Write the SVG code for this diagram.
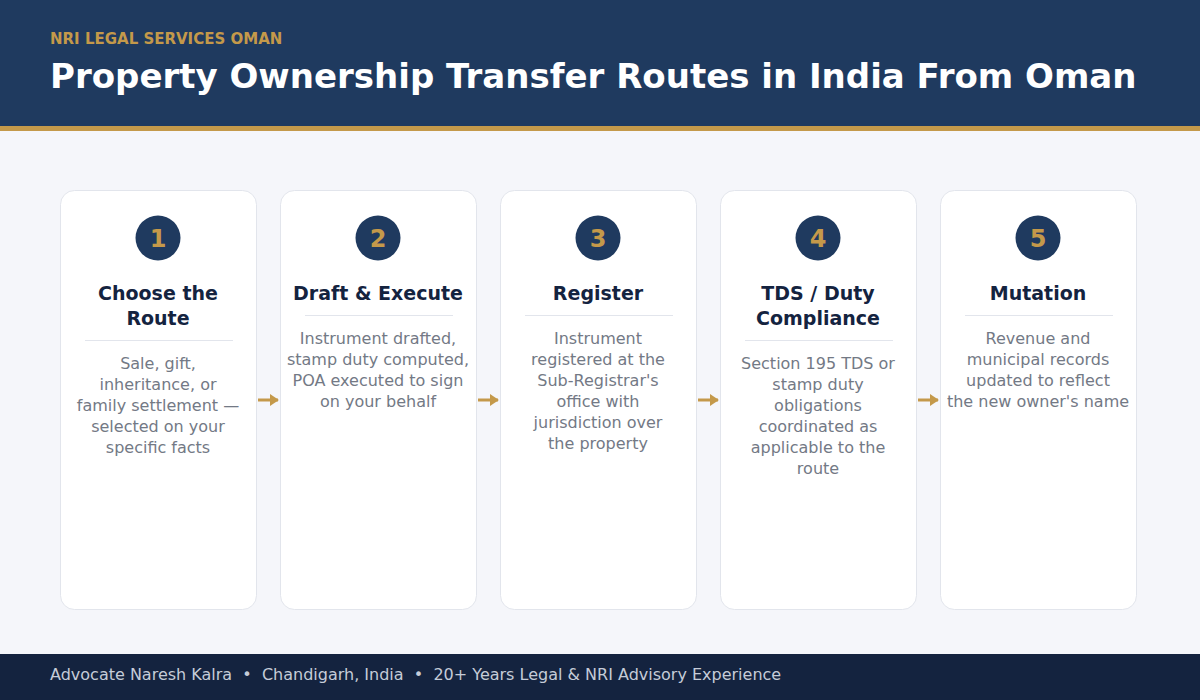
<svg xmlns="http://www.w3.org/2000/svg" width="1200" height="700" viewBox="0 0 1200 700">
<defs>
<style>
.card{fill:#ffffff;stroke:#e2e5ec;stroke-width:1}
.circ{fill:#1f3a5f}
.num{font-family:"DejaVu Sans",sans-serif;font-size:24px;font-weight:bold;fill:#c4994a;text-anchor:middle}
.ttl{font-family:"DejaVu Sans",sans-serif;font-size:19px;font-weight:bold;fill:#14233f;text-anchor:middle}
.desc{font-family:"DejaVu Sans",sans-serif;font-size:16px;fill:#737985;text-anchor:middle}
.div{stroke:#e2e5ec;stroke-width:1}
.conn{stroke:#c4994a;stroke-width:3;fill:none}
</style>
<marker id="ah" viewBox="0 0 10 10" refX="9" refY="5" markerWidth="3" markerHeight="4" orient="auto" markerUnits="strokeWidth" preserveAspectRatio="none">
<path d="M0,0 L10,5 L0,10 z" fill="#c4994a"/>
</marker>
</defs>
<rect x="0" y="0" width="1200" height="700" fill="#f5f6fa"/>
<g id="header">
<rect x="0" y="0" width="1200" height="126" fill="#1f3a5f"/>
<rect x="0" y="126" width="1200" height="5" fill="#c4994a"/>
<text x="50" y="44" font-family="DejaVu Sans, sans-serif" font-size="15" font-weight="bold" fill="#c4994a">NRI LEGAL SERVICES OMAN</text>
<text x="50" y="88" font-family="DejaVu Sans, sans-serif" font-size="34" font-weight="bold" fill="#ffffff">Property Ownership Transfer Routes in India From Oman</text>
</g>
<g id="connectors">
<line class="conn" x1="258" y1="400" x2="278" y2="400" marker-end="url(#ah)"/>
<line class="conn" x1="478" y1="400" x2="498" y2="400" marker-end="url(#ah)"/>
<line class="conn" x1="698" y1="400" x2="718" y2="400" marker-end="url(#ah)"/>
<line class="conn" x1="918" y1="400" x2="938" y2="400" marker-end="url(#ah)"/>
</g>
<g id="step1">
<rect class="card" x="60.5" y="190.5" width="196" height="419" rx="14"/>
<circle class="circ" cx="158" cy="238" r="22.5"/>
<text class="num" x="158" y="247">1</text>
<text class="ttl" x="158" y="300">Choose the</text>
<text class="ttl" x="158" y="325">Route</text>
<line class="div" x1="85" y1="340.5" x2="233" y2="340.5"/>
<text class="desc" x="158" y="369">Sale, gift,</text>
<text class="desc" x="158" y="390">inheritance, or</text>
<text class="desc" x="158" y="411">family settlement —</text>
<text class="desc" x="158" y="432">selected on your</text>
<text class="desc" x="158" y="453">specific facts</text>
</g>
<g id="step2">
<rect class="card" x="280.5" y="190.5" width="196" height="419" rx="14"/>
<circle class="circ" cx="378" cy="238" r="22.5"/>
<text class="num" x="378" y="247">2</text>
<text class="ttl" x="378" y="300">Draft &amp; Execute</text>
<line class="div" x1="305" y1="315.5" x2="453" y2="315.5"/>
<text class="desc" x="378" y="344">Instrument drafted,</text>
<text class="desc" x="378" y="365">stamp duty computed,</text>
<text class="desc" x="378" y="386">POA executed to sign</text>
<text class="desc" x="378" y="407">on your behalf</text>
</g>
<g id="step3">
<rect class="card" x="500.5" y="190.5" width="196" height="419" rx="14"/>
<circle class="circ" cx="598" cy="238" r="22.5"/>
<text class="num" x="598" y="247">3</text>
<text class="ttl" x="598" y="300">Register</text>
<line class="div" x1="525" y1="315.5" x2="673" y2="315.5"/>
<text class="desc" x="598" y="344">Instrument</text>
<text class="desc" x="598" y="365">registered at the</text>
<text class="desc" x="598" y="386">Sub-Registrar's</text>
<text class="desc" x="598" y="407">office with</text>
<text class="desc" x="598" y="428">jurisdiction over</text>
<text class="desc" x="598" y="449">the property</text>
</g>
<g id="step4">
<rect class="card" x="720.5" y="190.5" width="196" height="419" rx="14"/>
<circle class="circ" cx="818" cy="238" r="22.5"/>
<text class="num" x="818" y="247">4</text>
<text class="ttl" x="818" y="300">TDS / Duty</text>
<text class="ttl" x="818" y="325">Compliance</text>
<line class="div" x1="745" y1="340.5" x2="893" y2="340.5"/>
<text class="desc" x="818" y="369">Section 195 TDS or</text>
<text class="desc" x="818" y="390">stamp duty</text>
<text class="desc" x="818" y="411">obligations</text>
<text class="desc" x="818" y="432">coordinated as</text>
<text class="desc" x="818" y="453">applicable to the</text>
<text class="desc" x="818" y="474">route</text>
</g>
<g id="step5">
<rect class="card" x="940.5" y="190.5" width="196" height="419" rx="14"/>
<circle class="circ" cx="1038" cy="238" r="22.5"/>
<text class="num" x="1038" y="247">5</text>
<text class="ttl" x="1038" y="300">Mutation</text>
<line class="div" x1="965" y1="315.5" x2="1113" y2="315.5"/>
<text class="desc" x="1038" y="344">Revenue and</text>
<text class="desc" x="1038" y="365">municipal records</text>
<text class="desc" x="1038" y="386">updated to reflect</text>
<text class="desc" x="1038" y="407">the new owner's name</text>
</g>
<g id="footer">
<rect x="0" y="654" width="1200" height="46" fill="#14233f"/>
<text x="50" y="680" font-family="DejaVu Sans, sans-serif" font-size="16" fill="#c5ccd8" xml:space="preserve" style="white-space:pre">Advocate Naresh Kalra  •  Chandigarh, India  •  20+ Years Legal &amp; NRI Advisory Experience</text>
</g>
</svg>
